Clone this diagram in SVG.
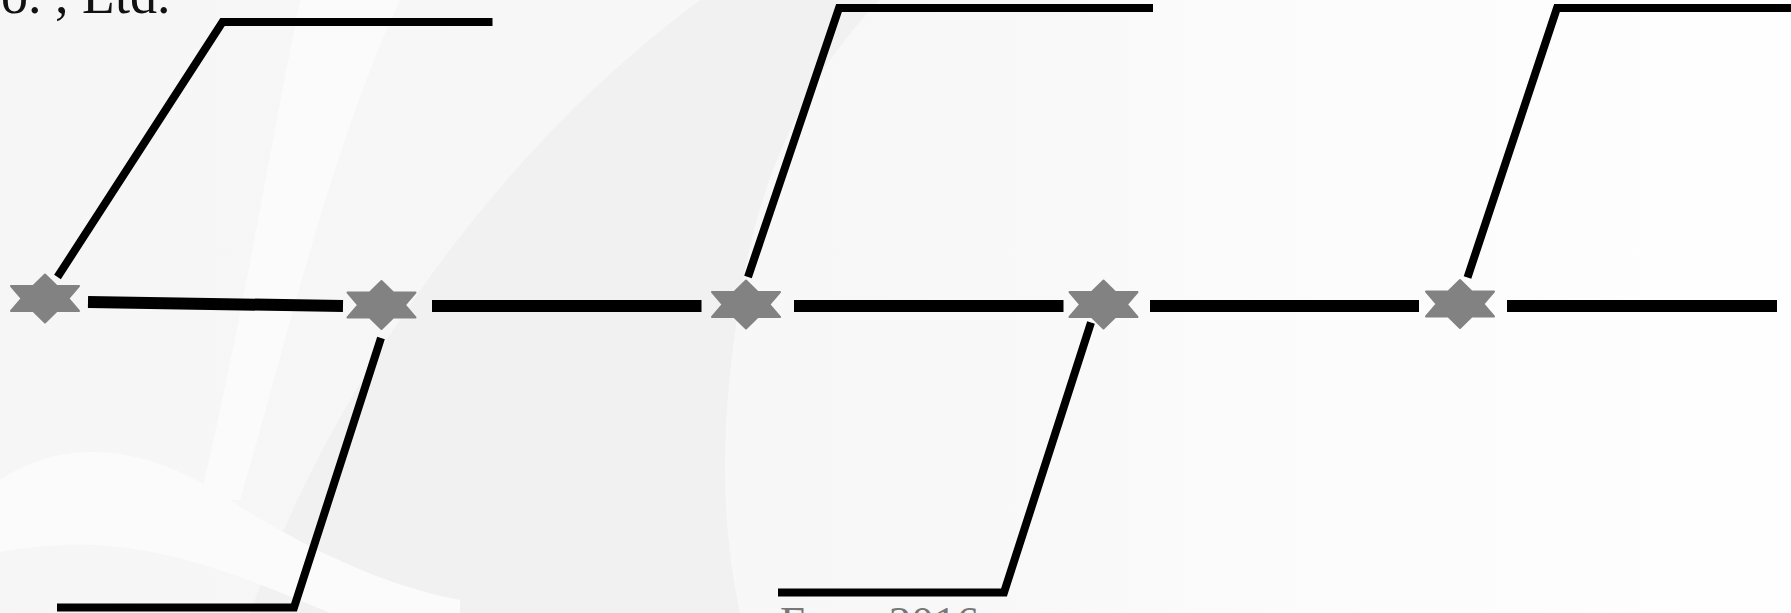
<svg xmlns="http://www.w3.org/2000/svg" xmlns:xlink="http://www.w3.org/1999/xlink" width="1791" height="613" viewBox="0 0 1791 613">
  <style>
    .thick { stroke: #000; stroke-width: 12; fill: none; stroke-linecap: butt; }
    .thin { stroke: #000; stroke-width: 8; fill: none; stroke-linecap: butt; stroke-linejoin: miter; }
    .star { fill: #828282; stroke: #828282; stroke-width: 2; stroke-linejoin: round; }
    .txt { font-family: "Liberation Serif", "Times New Roman", serif; }
  </style>
  <defs>
    <path id="star" d="M0,-24 L11.7,-12.5 L34,-12.5 L23.3,0 L34,12.5 L11.7,12.5 L0,24 L-11.7,12.5 L-34,12.5 L-23.3,0 L-34,-12.5 L-11.7,-12.5 Z"/>
    <linearGradient id="bg" x1="0" y1="0" x2="1" y2="0">
      <stop offset="0" stop-color="#f6f6f6"/>
      <stop offset="0.55" stop-color="#f8f8f8"/>
      <stop offset="0.75" stop-color="#fcfcfc"/>
      <stop offset="1" stop-color="#fefefe"/>
    </linearGradient>
  </defs>

  <g id="background">
    <rect x="0" y="0" width="1791" height="613" fill="url(#bg)"/>
    <path d="M300,0 L400,0 C330,150 290,330 240,500 L200,500 C240,330 270,150 300,0 Z" fill="#fbfbfb"/>
    <path d="M700,0 L880,0 C820,60 760,160 740,300 C720,420 720,520 740,613 L250,613 C320,420 470,170 700,0 Z" fill="#f1f1f1"/>
    <path d="M0,480 C60,440 140,440 230,500 C300,545 380,585 460,600 L460,613 L330,613 C250,580 160,540 60,545 C40,546 20,548 0,552 Z" fill="#fbfbfb"/>
  </g>

  <text class="txt" x="-35" y="13" font-size="54" fill="#111">Co. , Ltd.</text>
  <text class="txt" x="780" y="637" font-size="45" fill="#777">From 2016</text>

  <g id="connectors">
    <line class="thick" x1="88" y1="302" x2="343" y2="306"/>
    <line class="thick" x1="432" y1="306" x2="701.5" y2="306"/>
    <line class="thick" x1="794" y1="306" x2="1063.5" y2="306"/>
    <line class="thick" x1="1150" y1="306" x2="1419" y2="306"/>
    <line class="thick" x1="1507" y1="306" x2="1777" y2="306"/>
    <polyline class="thin" points="57.5,277 222.5,22 492.5,22"/>
    <polyline class="thin" points="381,338 294,607.5 57,607.5"/>
    <polyline class="thin" points="748,277 839,8 1153,8"/>
    <polyline class="thin" points="1091,322.5 1004,592.5 778,592.5"/>
    <polyline class="thin" points="1467.5,277.5 1557,8 1795,8"/>
  </g>

  <g id="node1"><use xlink:href="#star" class="star" x="45" y="298.5"/></g>
  <g id="node2"><use xlink:href="#star" class="star" x="381.5" y="305"/></g>
  <g id="node3"><use xlink:href="#star" class="star" x="746" y="304.5"/></g>
  <g id="node4"><use xlink:href="#star" class="star" x="1103.5" y="304.5"/></g>
  <g id="node5"><use xlink:href="#star" class="star" x="1460" y="304"/></g>
</svg>
